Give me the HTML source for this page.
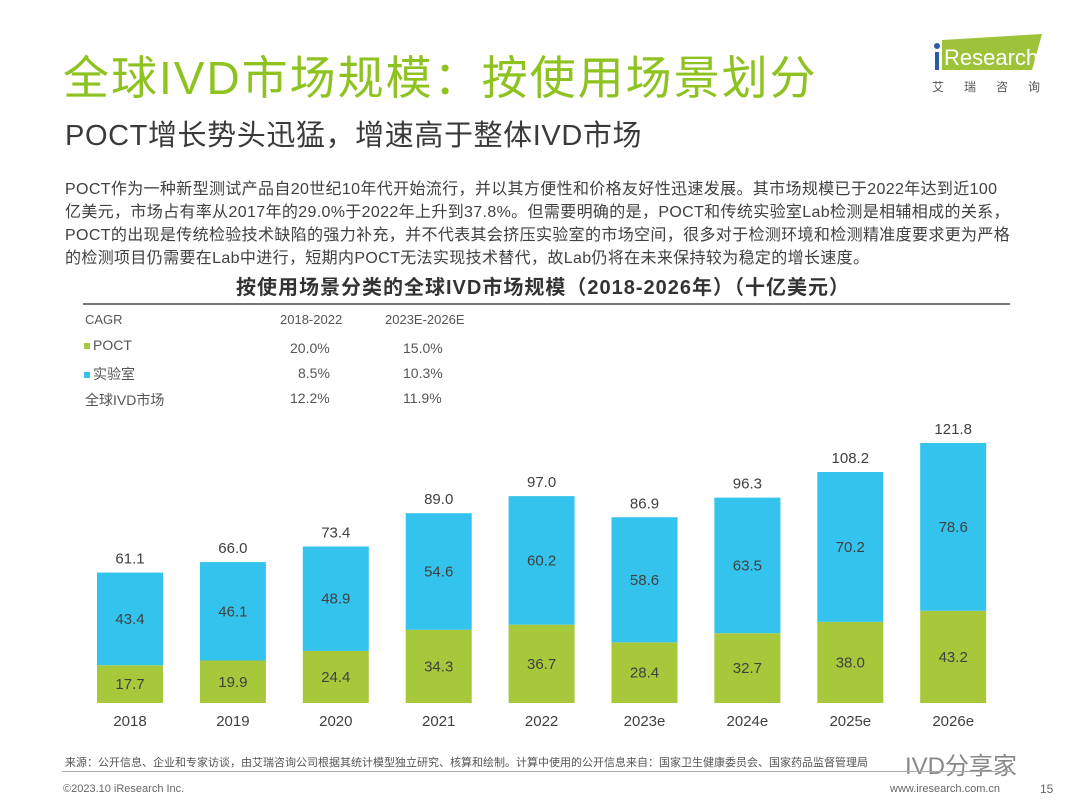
<!DOCTYPE html>
<html><head><meta charset="utf-8"><style>
body{margin:0;width:1080px;height:810px;background:#fff;position:relative;overflow:hidden;font-family:"Liberation Sans","Noto Sans CJK SC",sans-serif;color:#333}
.a{position:absolute;white-space:nowrap}
.p{font-size:16px;color:#404040;left:65px;letter-spacing:0.35px}
</style></head><body>
<div class="a" style="left:63px;top:42px;font-size:46px;color:#8dc21f;letter-spacing:2px">全球IVD市场规模：按使用场景划分</div>
<div class="a" style="left:65px;top:112px;font-size:29px;color:#3a3a3a;letter-spacing:0.6px">POCT增长势头迅猛，增速高于整体IVD市场</div>
<div class="a" style="left:930px;top:34px;width:115px;height:62px">
<svg width="115" height="62"><polygon points="12,6 112,0 102,36 12,36" fill="#9dc33b"/><circle cx="7" cy="12" r="3" fill="#2b5ba8"/><rect x="5" y="18" width="4" height="18" fill="#2b5ba8"/><text x="14" y="31" font-size="22" fill="#fff" font-family="Liberation Sans">Research</text><text x="2" y="57" font-size="12" fill="#555" letter-spacing="20">艾瑞咨询</text></svg></div>
<div class="a p" style="top:175px">POCT作为一种新型测试产品自20世纪10年代开始流行，并以其方便性和价格友好性迅速发展。其市场规模已于2022年达到近100</div>
<div class="a p" style="top:198px">亿美元，市场占有率从2017年的29.0%于2022年上升到37.8%。但需要明确的是，POCT和传统实验室Lab检测是相辅相成的关系，</div>
<div class="a p" style="top:221px">POCT的出现是传统检验技术缺陷的强力补充，并不代表其会挤压实验室的市场空间，很多对于检测环境和检测精准度要求更为严格</div>
<div class="a p" style="top:244px">的检测项目仍需要在Lab中进行，短期内POCT无法实现技术替代，故Lab仍将在未来保持较为稳定的增长速度。</div>
<div class="a" style="left:0;width:1086px;text-align:center;top:271px;font-size:20px;font-weight:bold;color:#333;letter-spacing:1px">按使用场景分类的全球IVD市场规模（2018-2026年）（十亿美元）</div>
<div class="a" style="left:83px;width:927px;top:303px;height:2px;background:#777"></div>
<div class="a" style="left:85px;top:312px;font-size:14px;color:#555">
<div class="a" style="top:0;left:0;font-size:13px">CAGR</div><div class="a" style="top:0;left:195px;font-size:13px">2018-2022</div><div class="a" style="top:0;left:300px;font-size:13px">2023E-2026E</div>
<div class="a" style="top:25px;left:-1px"><span style="display:inline-block;width:6px;height:6px;background:#a8c83c;margin-right:3px;vertical-align:middle"></span>POCT</div><div class="a" style="top:28px;left:205px">20.0%</div><div class="a" style="top:28px;left:318px">15.0%</div>
<div class="a" style="top:52px;left:-1px"><span style="display:inline-block;width:6px;height:6px;background:#33c3ec;margin-right:3px;vertical-align:middle"></span>实验室</div><div class="a" style="top:53px;left:213px">8.5%</div><div class="a" style="top:53px;left:318px">10.3%</div>
<div class="a" style="top:78px;left:0">全球IVD市场</div><div class="a" style="top:78px;left:205px">12.2%</div><div class="a" style="top:78px;left:318px">11.9%</div>
</div>
<svg class="a" id="chart" style="left:0;top:0" width="1080" height="740"></svg>
<div class="a" style="left:65px;top:754px;font-size:11px;color:#555">来源：公开信息、企业和专家访谈，由艾瑞咨询公司根据其统计模型独立研究、核算和绘制。计算中使用的公开信息来自：国家卫生健康委员会、国家药品监督管理局</div>
<div class="a" style="left:905px;top:746px;font-size:24px;color:#888">IVD分享家</div>
<div class="a" style="left:62px;width:950px;top:771px;height:1px;background:#aaa"></div>
<div class="a" style="left:63px;top:783px;font-size:11px;color:#666">©2023.10 iResearch Inc.</div>
<div class="a" style="left:890px;top:783px;font-size:11px;color:#666">www.iresearch.com.cn</div>
<div class="a" style="left:1040px;top:782px;font-size:12px;color:#666">15</div>
<script>
const years=["2018","2019","2020","2021","2022","2023e","2024e","2025e","2026e"];
const poct=[17.7,19.9,24.4,34.3,36.7,28.4,32.7,38.0,43.2];
const lab=[43.4,46.1,48.9,54.6,60.2,58.6,63.5,70.2,78.6];
const totals=[61.1,66.0,73.4,89.0,97.0,86.9,96.3,108.2,121.8];
const svg=document.getElementById('chart');const ns='http://www.w3.org/2000/svg';
const base=703,k=2.135,x0=130,step=102.9,bw=66;
const y=v=>base-v*k, xc=i=>x0+i*step;
function mk(t,a){const e=document.createElementNS(ns,t);for(const n in a)e.setAttribute(n,a[n]);svg.appendChild(e);return e;}
function txt(s,x,yy,name){const e=mk('text',{x:x,y:yy,'text-anchor':'middle','font-size':15,fill:'#404040','font-family':'Liberation Sans'});e.textContent=s;}
years.forEach((yr,i)=>{
const r1=mk('rect',{x:xc(i)-bw/2,y:y(poct[i]),width:bw,height:poct[i]*k,fill:'#a8c83c'});

const r2=mk('rect',{x:xc(i)-bw/2,y:y(poct[i]+lab[i]),width:bw,height:lab[i]*k,fill:'#33c3ec'});

txt(poct[i].toFixed(1),xc(i),y(poct[i]/2)+5,'label-poct-'+yr);
txt(lab[i].toFixed(1),xc(i),y(poct[i]+lab[i]/2)+5,'label-lab-'+yr);
txt(totals[i].toFixed(1),xc(i),y(poct[i]+lab[i])-9,'label-total-'+yr);
txt(yr,xc(i),726,'x-tick-'+yr);
});
</script>
</body></html>
